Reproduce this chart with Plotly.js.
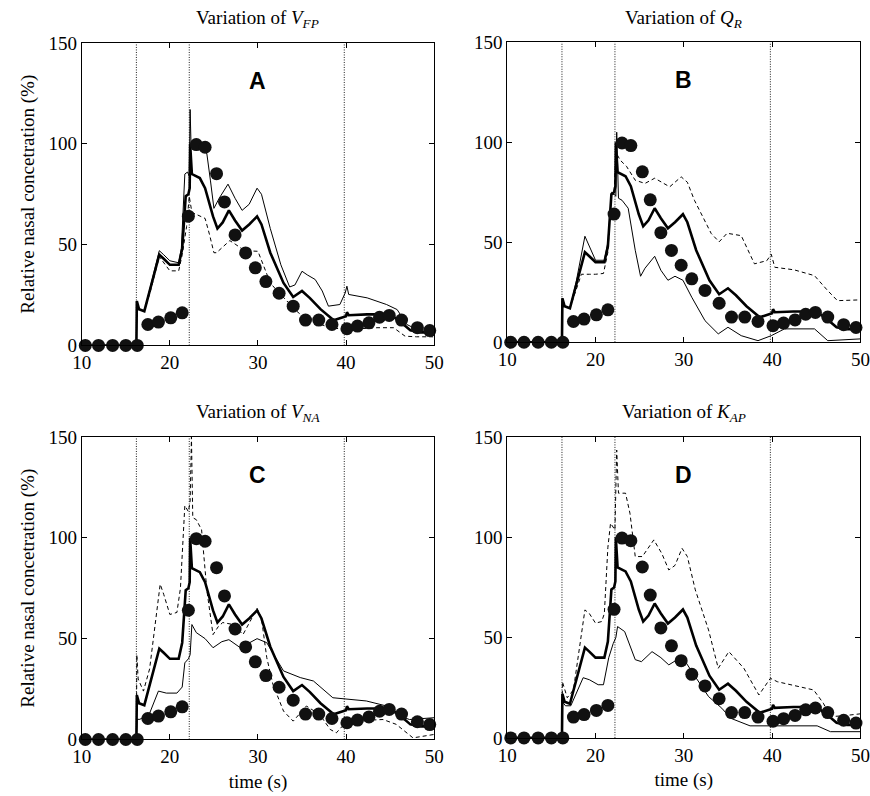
<!DOCTYPE html>
<html>
<head>
<meta charset="utf-8">
<script src="https://cdn.plot.ly/plotly-3.0.1.min.js"></script>
<style>html,body{margin:0;padding:0;background:#fff;}#chart{width:870px;height:796px;}</style>
</head>
<body>
<div id="chart"></div>
<script>
// ---------- DATA ----------
var panelTitles = ["Variation of <i>V</i><sub><i>FP</i></sub>", "Variation of <i>Q</i><sub><i>R</i></sub>",
                   "Variation of <i>V</i><sub><i>NA</i></sub>", "Variation of <i>K</i><sub><i>AP</i></sub>"];
var panelLetters = ["A", "B", "C", "D"];
var markerTimes = [16.2, 22.2, 39.8];
var xTicks = [10, 20, 30, 40, 50];
var yTicks = [0, 50, 100, 150];

// experimental points (same in every panel)
var tExp = [10.4, 11.9, 13.5, 15.0, 16.3, 17.5, 18.7, 20.1, 21.4, 22.1, 23.0, 24.0, 25.3, 26.2, 27.4, 28.6, 29.7, 30.9, 32.4, 34.0, 35.4, 36.9, 38.4, 40.1, 41.3, 42.6, 43.8, 44.9, 46.3, 48.1, 49.5];
var yExp = [0, 0, 0, 0, 0, 10.4, 11.6, 13.7, 16.2, 64.1, 99.6, 98.3, 85.2, 71.2, 54.8, 45.9, 38.5, 31.7, 25.9, 19.5, 12.6, 12.6, 10.4, 8.3, 9.6, 11.2, 14.0, 14.9, 12.6, 8.8, 7.4];

// nominal model (thick line, same in every panel)
var tNom = [10, 16.2, 16.25, 16.5, 17.1, 17.8, 18.8, 19.3, 20.0, 21.0, 21.4, 21.8, 22.1, 22.25, 22.3, 22.5, 23.4, 24.0, 24.9, 25.4, 26.0, 26.7, 27.4, 28.2, 29.0, 29.9, 30.4, 31.4, 32.9, 34.0, 35.0, 35.9, 37.1, 38.6, 39.7, 40.0, 40.1, 40.3, 42.4, 45.0, 46.1, 47.3, 48.5, 50];
var yNom = [0, 0, 22, 18, 17, 28, 45, 43, 40, 40, 48, 74, 75, 78, 100, 85, 83, 78, 64, 58, 61, 67, 62, 57, 60, 64, 60, 46, 31, 24, 27, 23.5, 18, 12.5, 14, 14.5, 16.5, 15, 15.4, 15.4, 12, 7.5, 6.5, 6.5];

// Panel A (V_FP)
var tAthin = [10, 16.2, 16.25, 16.5, 17.1, 17.8, 18.8, 19.3, 20.0, 21.0, 21.3, 21.7, 22.0, 22.2, 22.3, 22.4, 22.6, 23.5, 24.2, 24.6, 25.0, 25.6, 26.6, 27.4, 28.2, 29.0, 29.9, 30.4, 31.4, 32.6, 33.6, 34.2, 35.0, 35.6, 36.5, 37.3, 38.0, 39.3, 39.9, 40.1, 40.3, 42.4, 44.6, 45.8, 46.9, 48.5, 50];
var yAthin = [0, 0, 22, 18, 17, 29, 47, 45, 42, 41, 48, 85, 86, 84, 117, 100, 100, 99, 95, 82, 68, 73, 80, 73, 67, 70, 78, 75, 58, 40, 29, 30, 36.8, 35, 32.7, 27, 19.5, 20.3, 26, 29.4, 25.3, 23.6, 20.3, 17.8, 10.4, 7, 5.5];
var tAdash = [10, 16.2, 16.25, 16.5, 17.1, 17.8, 18.8, 19.3, 20.0, 21.0, 21.4, 21.9, 22.2, 22.5, 23.0, 24.0, 24.5, 25.0, 25.3, 26.0, 26.8, 27.5, 28.5, 30.0, 31.4, 32.2, 33.3, 34.4, 35.5, 37.0, 38.2, 40.1, 42.0, 43.5, 45.4, 46.7, 48.0, 50];
var yAdash = [0, 0, 22, 18, 17, 27, 44, 41, 37, 37, 45, 59, 74, 66, 65, 63, 55, 46, 46, 49, 52, 50, 47, 46.7, 31, 27, 22, 17, 12.9, 10.5, 8.8, 7.9, 8.5, 8.8, 8.8, 4.6, 4.3, 4.3];

// Panel B (Q_R)
var tBthin = [10, 16.2, 16.25, 16.5, 17.1, 17.8, 18.8, 19.3, 20.0, 21.0, 21.4, 21.8, 22.1, 22.3, 22.4, 22.6, 23.0, 23.7, 24.5, 25.1, 25.6, 26.7, 27.4, 28.2, 29.0, 29.9, 30.9, 32.4, 33.9, 35.0, 36.5, 38.4, 39.9, 41.4, 44.8, 46.3, 48.0, 50];
var yBthin = [0, 0, 22, 18, 17, 30, 53, 48, 41, 41, 50, 74, 74, 73, 105, 72, 71, 67, 46, 33, 37, 43, 36, 31, 33, 31, 22.5, 10.8, 4.2, 7.5, 3.3, 0.8, 3.3, 6.7, 6.7, 0.8, 1.2, 1.7];
var tBdash = [10, 16.2, 16.25, 16.5, 17.1, 17.8, 18.4, 19.3, 20.0, 20.9, 21.4, 21.8, 22.1, 22.3, 22.8, 23.5, 24.5, 25.6, 26.7, 28.4, 29.7, 30.4, 31.2, 33.1, 34.0, 34.9, 36.5, 38.0, 39.4, 39.9, 40.3, 42.5, 44.8, 46.3, 47.4, 50];
var yBdash = [0, 0, 22, 18, 17, 26, 34, 34, 34, 34.4, 45, 75, 74, 95, 91, 88, 81, 79.4, 82, 77.7, 82.7, 80, 71, 54.4, 50.2, 54.5, 53.3, 39.2, 40.8, 44, 37.5, 36.2, 33.3, 25.8, 20.8, 21.2];

// Panel C (V_NA)
var tCthin = [10, 16.2, 16.3, 16.6, 17.7, 18.7, 19.6, 20.8, 21.4, 21.7, 22.1, 22.3, 22.5, 23.0, 24.0, 24.9, 25.9, 26.7, 28.0, 29.9, 31.0, 32.9, 34.8, 36.3, 38.5, 40.1, 42.3, 44.6, 45.7, 47.2, 50];
var yCthin = [0, 0, 10, 10, 13, 24, 23, 23, 26, 38, 40, 42, 57, 53, 50, 45.5, 48.5, 49.5, 45.5, 50, 48, 34, 30.7, 29, 20.7, 19.9, 19.1, 16.6, 12.4, 9.9, 10.8];
var tCdash = [10, 16.2, 16.25, 16.4, 17.0, 17.7, 18.9, 19.3, 20.0, 20.8, 21.2, 21.7, 22.1, 22.3, 22.45, 22.6, 23.0, 23.6, 24.2, 24.9, 25.5, 26.0, 27.2, 28.3, 29.9, 30.4, 31.0, 31.7, 32.9, 34.0, 35.5, 37.0, 38.2, 38.9, 40.1, 44.2, 45.7, 47.6, 50];
var yCdash = [0, 0, 42, 30, 24, 35, 77, 72, 62, 63, 75, 116, 113, 118, 150, 110, 109, 104, 74, 52, 56, 58, 57, 52, 65, 60, 40.6, 27.3, 14.1, 9.1, 16.6, 12.4, 5, 3.3, 9.1, 9.9, 7.5, 0.8, 2.5];

// Panel D (K_AP)
var tDthin = [10, 16.2, 16.25, 16.6, 17.2, 18.6, 19.3, 20.3, 20.9, 21.5, 22.0, 22.3, 22.5, 23.3, 24.5, 25.2, 26.4, 27.4, 28.3, 29.8, 31.3, 32.8, 34.3, 35.3, 37.5, 38.5, 40.0, 45.1, 46.6, 50];
var yDthin = [0, 0, 18, 16, 16, 30, 29, 26.5, 26.5, 40, 47, 50, 55.5, 53, 39, 38, 43, 40, 36.4, 40.5, 30.5, 20.6, 14.8, 9.8, 6, 6, 6, 6, 3.1, 3.1];
var tDdash = [10, 16.2, 16.25, 16.8, 17.5, 18.8, 19.3, 20.0, 20.7, 21.0, 21.4, 21.7, 22.2, 22.4, 22.6, 23.4, 23.9, 24.5, 25.3, 26.0, 26.6, 27.5, 28.3, 29.0, 29.8, 30.4, 31.3, 32.8, 33.9, 35.1, 36.8, 38.5, 39.8, 40.6, 43.2, 44.7, 45.8, 46.6, 48.0, 50];
var yDdash = [0, 0, 28, 20, 24, 63.8, 62, 57.2, 58, 62, 95, 107, 103.7, 143.5, 122, 122, 112, 90.4, 90.4, 95, 98.7, 92, 83.7, 86, 94.5, 90.4, 73.8, 53.8, 34.7, 43, 34.7, 21.4, 29.7, 28, 25.6, 23.9, 17.3, 10.6, 11, 12];

var thinSeries = [[tAthin, yAthin], [tBthin, yBthin], [tCthin, yCthin], [tDthin, yDthin]];
var dashSeries = [[tAdash, yAdash], [tBdash, yBdash], [tCdash, yCdash], [tDdash, yDdash]];

// ---------- LAYOUT ----------
var W = 870, H = 796;
var xDomains = [[0.094, 0.499], [0.583, 0.989], [0.094, 0.499], [0.583, 0.989]];
var yDomains = [[0.566, 0.946], [0.570, 0.947], [0.071, 0.451], [0.073, 0.451]];
var serif = "Liberation Serif";

var traces = [];
var layout = {
  width: W, height: H,
  margin: {l: 0, r: 0, t: 0, b: 0},
  paper_bgcolor: "#fff", plot_bgcolor: "#fff",
  showlegend: false,
  font: {family: serif, color: "#000", size: 18},
  shapes: [], annotations: []
};

for (var i = 0; i < 4; i++) {
  var sx = i === 0 ? "" : String(i + 1);
  var xa = "x" + sx, ya = "y" + sx;
  traces.push({x: dashSeries[i][0], y: dashSeries[i][1], xaxis: xa, yaxis: ya, type: "scatter", mode: "lines",
               line: {color: "#000", width: 1, dash: "4px,3px"}, hoverinfo: "skip"});
  traces.push({x: thinSeries[i][0], y: thinSeries[i][1], xaxis: xa, yaxis: ya, type: "scatter", mode: "lines",
               line: {color: "#000", width: 1}, hoverinfo: "skip"});
  traces.push({x: tNom, y: yNom, xaxis: xa, yaxis: ya, type: "scatter", mode: "lines",
               line: {color: "#000", width: 2.6}, hoverinfo: "skip"});
  traces.push({x: tExp, y: yExp, xaxis: xa, yaxis: ya, type: "scatter", mode: "markers", cliponaxis: false,
               marker: {color: "#111", size: 13, line: {width: 0}}, hoverinfo: "skip"});

  var axCommon = {showline: true, linecolor: "#000", linewidth: 1, mirror: "ticks", ticks: "inside",
                  ticklen: 5, tickwidth: 1, tickcolor: "#000", showgrid: false, zeroline: false,
                  tickfont: {family: serif, size: 19, color: "#000"}, automargin: false, fixedrange: true};
  var xaxis = Object.assign({}, axCommon, {domain: xDomains[i], anchor: ya, range: [10, 50],
                 tickmode: "array", tickvals: xTicks, ticktext: xTicks.map(String)});
  var yaxis = Object.assign({}, axCommon, {domain: yDomains[i], anchor: xa, range: [0, 150],
                 tickmode: "array", tickvals: yTicks, ticktext: yTicks.map(String)});
  if (i >= 2) xaxis.title = {text: "time (s)", font: {family: serif, size: 19}, standoff: 8};
  if (i % 2 === 0) yaxis.title = {text: "Relative nasal concetration (%)", font: {family: serif, size: 19}, standoff: 8};
  layout["xaxis" + sx] = xaxis;
  layout["yaxis" + sx] = yaxis;

  markerTimes.forEach(function (mt) {
    layout.shapes.push({type: "line", xref: xa, yref: ya + " domain", x0: mt, x1: mt, y0: 0, y1: 1,
                        line: {color: "#000", width: 0.9, dash: "1px,1.5px"}, layer: "below"});
  });

  var cx = (xDomains[i][0] + xDomains[i][1]) / 2;
  layout.annotations.push({text: panelTitles[i], xref: "paper", yref: "paper", x: cx, y: yDomains[i][1] + 0.012,
                           xanchor: "center", yanchor: "bottom", showarrow: false,
                           font: {family: serif, size: 19, color: "#000"}});
  layout.annotations.push({text: "<b>" + panelLetters[i] + "</b>", xref: "paper", yref: "paper", x: cx,
                           y: yDomains[i][1] - 0.048, xanchor: "center", yanchor: "middle", showarrow: false,
                           font: {family: "Liberation Sans", size: 23, color: "#000"}});
}

Plotly.newPlot("chart", traces, layout, {displayModeBar: false, staticPlot: true});
</script>
</body>
</html>
